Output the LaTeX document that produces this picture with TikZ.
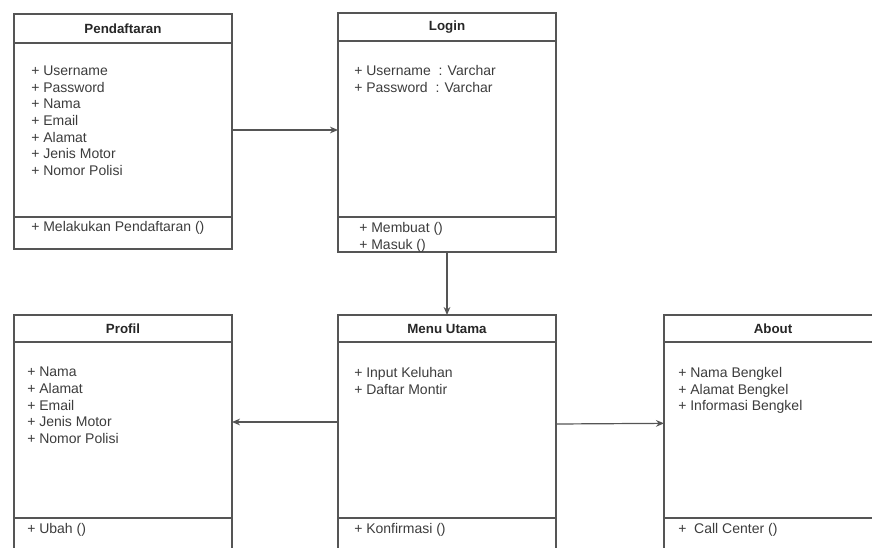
\documentclass[tikz,border=0pt]{standalone}
\usepackage{fontspec}
\setmainfont{Liberation Sans}
\usetikzlibrary{positioning, arrows.meta}
\definecolor{linegray}{RGB}{85,85,85}
\definecolor{textgray}{RGB}{60,60,60}
\tikzset{part/.style = {draw=linegray, line width=0.9pt, minimum width=163.5pt, inner sep=0pt, outer sep=0pt},
    ttl/.style = {part, anchor=north west, font=\fontsize{10}{12}\selectfont\bfseries, text=black!85},
    items/.style = {anchor=north west, align=left, inner sep=0pt, text=textgray, font=\fontsize{10.5}{12.5}\selectfont},
    link/.style = {->, draw=linegray, line width=0.9pt}}

\begin{document}
\begin{tikzpicture}[x=0.75pt, y=-0.75pt, >={Stealth[length=6pt, width=5pt]}]
    \useasboundingbox (0,0) rectangle (872,547);
    \clip (0,0) rectangle (872,547);

    % top row
    \node[ttl, minimum height=21.75pt] (pendT) at (14,14) {Pendaftaran};
    \node[part, minimum height=130.5pt, below=0pt of pendT] (pendB) {};
    \node[part, minimum height=24pt, below=0pt of pendB] (pendM) {};
    \node[items] (pendA) at (31,65.5) {+ Username\\+ Password\\+ Nama\\+ Email\\+ Alamat\\+ Jenis Motor\\+ Nomor Polisi};
    \node[items] (pendO) at (31,221) {+ Melakukan Pendaftaran ()};

    \node[ttl, minimum height=21pt] (loginT) at (338,13) {Login};
    \node[part, minimum height=132pt, below=0pt of loginT] (loginB) {};
    \node[part, minimum height=26.25pt, below=0pt of loginB] (loginM) {};
    \node[items] (loginA) at (354,65.5) {+ Username~ : Varchar\\+ Password~ : Varchar};
    \node[items] (loginO) at (359,222) {+ Membuat ()\\+ Masuk ()};

    % bottom row
    \foreach \n/\x/\t in {prof/14/Profil, menu/338/Menu Utama, about/664/About} {
        \node[ttl, minimum height=20.25pt] (\n T) at (\x,315) {\t};
        \node[part, minimum height=132pt, below=0pt of \n T] (\n B) {};
        \node[part, minimum height=30pt, below=0pt of \n B] (\n M) {};
    }
    \node[items] (profA) at (27,367) {+ Nama\\+ Alamat\\+ Email\\+ Jenis Motor\\+ Nomor Polisi};
    \node[items] (profO) at (27,523) {+ Ubah ()};
    \node[items] (menuA) at (354,367) {+ Input Keluhan\\+ Daftar Montir};
    \node[items] (menuO) at (354,523) {+ Konfirmasi ()};
    \node[items] (aboutA) at (678,367) {+ Nama Bengkel\\+ Alamat Bengkel\\+ Informasi Bengkel};
    \node[items] (aboutO) at (678,523) {+~ Call Center ()};

    \draw[link] (pendB.east) -- (pendB.east -| loginB.west);
    \draw[link] (loginM.south) -- (menuT.north);
    \draw[link] ([yshift=6pt]menuB.west) -- ([yshift=6pt]menuB.west -| profB.east);
    \draw[link] ([yshift=4.5pt]menuB.east) -- ([yshift=5pt]aboutB.west);
\end{tikzpicture}
\end{document}
